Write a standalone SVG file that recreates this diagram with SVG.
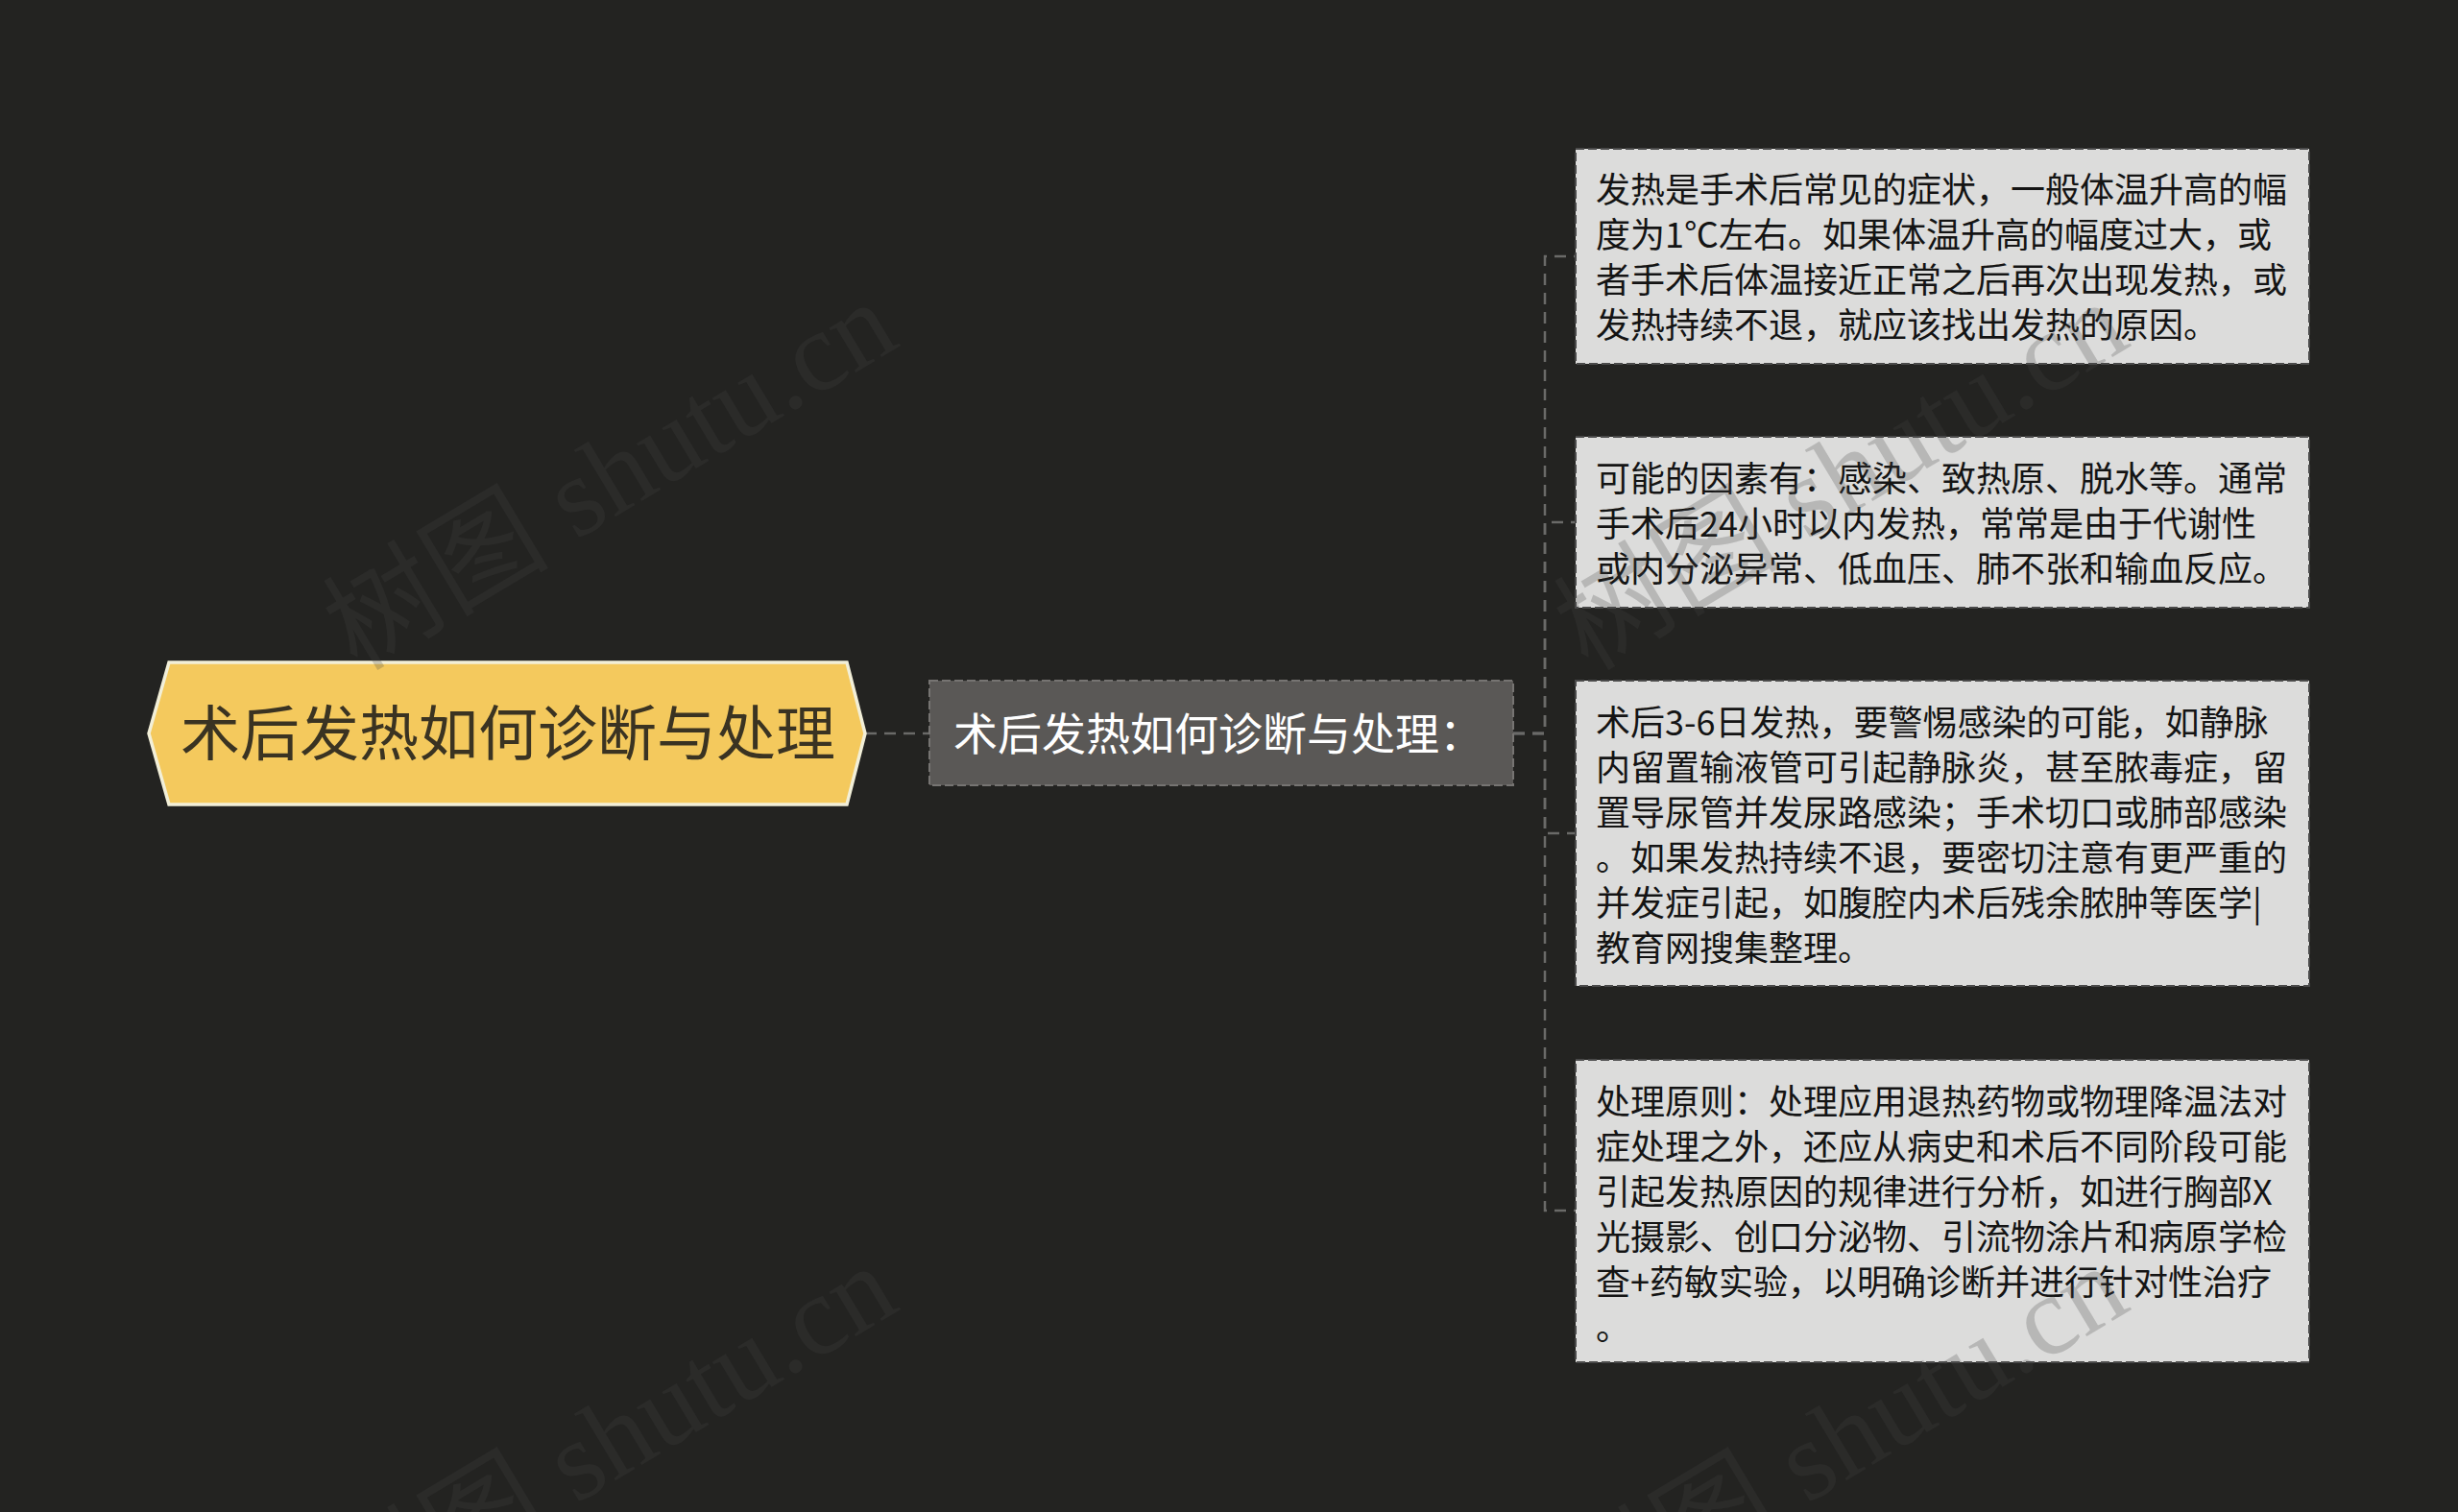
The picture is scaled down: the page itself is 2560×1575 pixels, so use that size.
<svg xmlns="http://www.w3.org/2000/svg" width="2560" height="1575" viewBox="0 0 2560 1575">
<style>
.conn{fill:none;stroke:#6a6a68;stroke-width:2.5;stroke-dasharray:12,8}
.leaf rect{fill:#dcdcdb;stroke:#4a4a4a;stroke-width:2;stroke-dasharray:9,4}
.leaf text{font-family:"Noto Sans CJK SC","Noto Sans",sans-serif;font-size:36px;fill:#141414}
.wm{font-family:"Liberation Serif","Noto Sans CJK SC",serif;font-size:118px;fill:#454545;opacity:0.24}
</style>
<rect x="0" y="0" width="2560" height="1575" fill="#232321"/>
<g id="connectors">
<path class="conn" d="M901,764 H968"/>
<path class="conn" d="M1576,764 H1609 V267 H1641"/>
<path class="conn" d="M1576,764 H1609 V544 H1641"/>
<path class="conn" d="M1576,764 H1609 V868 H1641"/>
<path class="conn" d="M1576,764 H1609 V1261 H1641"/>
</g>
<g id="root">
<polygon points="155,764 176,690 882,690 901,764 882,838 176,838" fill="#f4c95d" stroke="#f2efd8" stroke-width="3.5"/>
<text x="529" y="787" text-anchor="middle" font-family="Noto Sans CJK SC,sans-serif" font-size="62" fill="#3a3322">术后发热如何诊断与处理</text>
</g>
<g id="sub">
<rect x="968" y="709" width="608" height="109" fill="#5a5856" stroke="#767472" stroke-width="2" stroke-dasharray="9,4"/>
<text x="993" y="781" font-family="Noto Sans CJK SC,sans-serif" font-size="46" fill="#ffffff">术后发热如何诊断与处理：</text>
</g>
<g id="leaf1" class="leaf">
<rect x="1641" y="155" width="764" height="224"/>
<text x="1662" y="211">发热是手术后常见的症状，一般体温升高的幅</text>
<text x="1662" y="258">度为1℃左右。如果体温升高的幅度过大，或</text>
<text x="1662" y="305">者手术后体温接近正常之后再次出现发热，或</text>
<text x="1662" y="352">发热持续不退，就应该找出发热的原因。</text>
</g>
<g id="leaf2" class="leaf">
<rect x="1641" y="455" width="764" height="178"/>
<text x="1662" y="512">可能的因素有：感染、致热原、脱水等。通常</text>
<text x="1662" y="559">手术后24小时以内发热，常常是由于代谢性</text>
<text x="1662" y="606">或内分泌异常、低血压、肺不张和输血反应。</text>
</g>
<g id="leaf3" class="leaf">
<rect x="1641" y="709" width="764" height="318"/>
<text x="1662" y="766">术后3-6日发热，要警惕感染的可能，如静脉</text>
<text x="1662" y="813">内留置输液管可引起静脉炎，甚至脓毒症，留</text>
<text x="1662" y="860">置导尿管并发尿路感染；手术切口或肺部感染</text>
<text x="1662" y="907">。如果发热持续不退，要密切注意有更严重的</text>
<text x="1662" y="954">并发症引起，如腹腔内术后残余脓肿等医学|</text>
<text x="1662" y="1001">教育网搜集整理。</text>
</g>
<g id="leaf4" class="leaf">
<rect x="1641" y="1104" width="764" height="315"/>
<text x="1662" y="1161">处理原则：处理应用退热药物或物理降温法对</text>
<text x="1662" y="1208">症处理之外，还应从病史和术后不同阶段可能</text>
<text x="1662" y="1255">引起发热原因的规律进行分析，如进行胸部X</text>
<text x="1662" y="1302">光摄影、创口分泌物、引流物涂片和病原学检</text>
<text x="1662" y="1349">查+药敏实验，以明确诊断并进行针对性治疗</text>
<text x="1662" y="1396">。</text>
</g>
<g id="watermarks">
<text class="wm" transform="translate(372,700) rotate(-31)">树图 shutu.cn</text>
<text class="wm" transform="translate(1654,700) rotate(-31)">树图 shutu.cn</text>
<text class="wm" transform="translate(372,1704) rotate(-31)">树图 shutu.cn</text>
<text class="wm" transform="translate(1654,1704) rotate(-31)">树图 shutu.cn</text>
</g>
</svg>
